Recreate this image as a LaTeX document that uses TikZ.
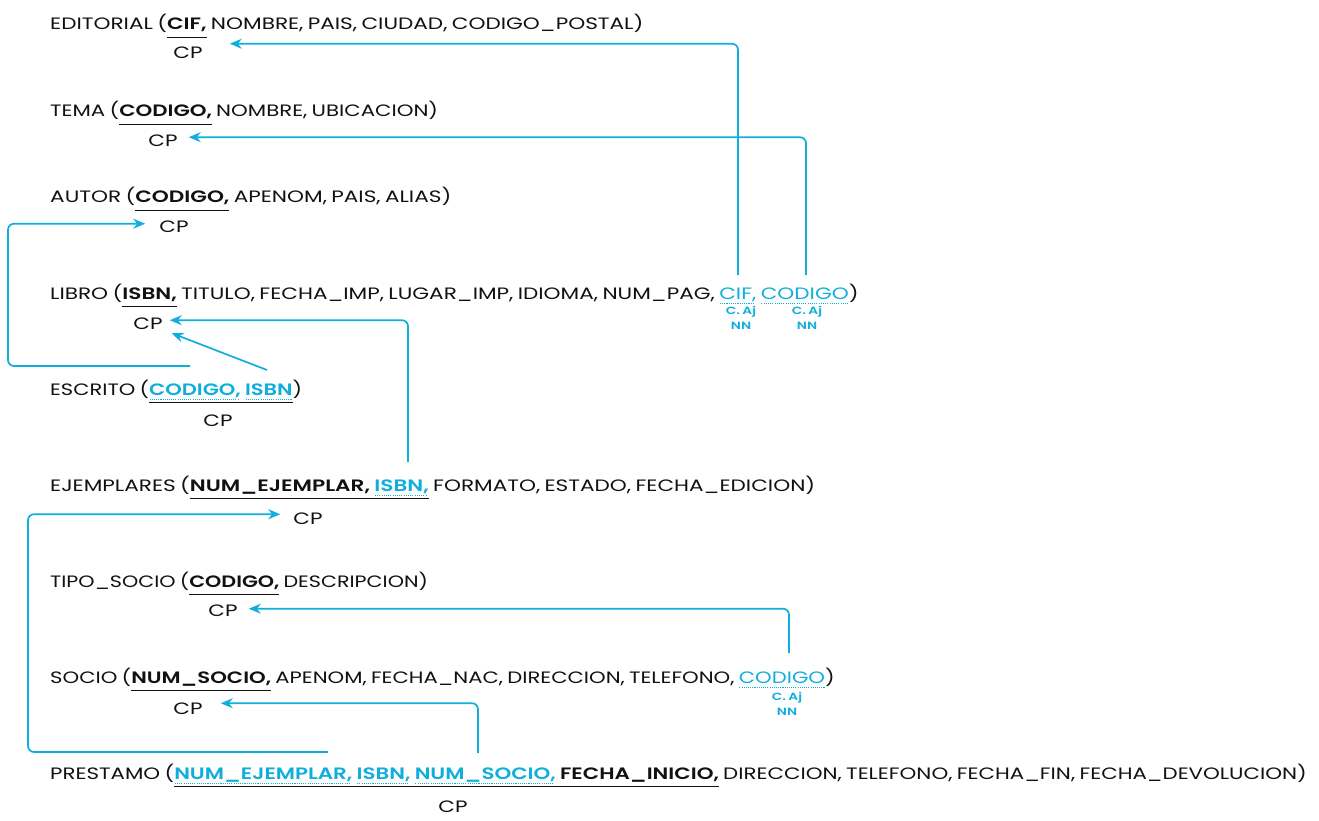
\documentclass[tikz,border=0pt]{standalone}
\usepackage{fontspec}
\usepackage{graphicx}
\setmainfont[FakeStretch=1.31,WordSpace=0.75,BoldFont={Poppins SemiBold}]{Poppins}
\usetikzlibrary{arrows.meta,calc}
\definecolor{cy}{RGB}{16,174,220}
\definecolor{ink}{RGB}{17,17,17}
\newsavebox\ulkbox
\newsavebox\uldbox
\newcommand\ulk[1]{\sbox\ulkbox{#1}\rlap{\color{ink}\rule[-8pt]{\wd\ulkbox}{1.4pt}}\usebox\ulkbox}
\newcommand\uld[1]{\sbox\uldbox{#1}\rlap{\raisebox{-4.6pt}{\color{cy}\hbox to \wd\uldbox{\leaders\hbox to 2.2pt{\hss\rule{1.1pt}{1.1pt}\hss}\hfill}}}\usebox\uldbox}
\newcommand\fk[1]{\uld{\textcolor{cy}{#1}}}
\newcommand\fkb[1]{\uld{\textcolor{cy}{\textbf{#1}}}}
\begin{document}
\begin{tikzpicture}[x=1pt,y=-1pt,
  rel/.style={anchor=base west,inner sep=0pt,font=\fontsize{16.5}{18}\selectfont,text=ink},
  cplab/.style={anchor=base,inner sep=0pt,font=\fontsize{16.5}{18}\selectfont,text=ink},
  tag/.style={anchor=north,inner sep=0pt,align=center,font=\fontsize{10.5}{15.5}\selectfont\bfseries,text=cy},
  fkarrow/.style={draw=cy,line width=1.7pt,rounded corners=6pt,-{Stealth[length=12pt,width=10pt,inset=4pt]}}]
\useasboundingbox (0,0) rectangle (1319,821);
% relations
\node[rel] (editorial) at (50,30) {EDITORIAL (\ulk{\textbf{CIF,}} NOMBRE, PAIS, CIUDAD, CODIGO\_POSTAL)};
\node[cplab] (cpE) at (188,59) {CP};
\node[rel] (tema) at (50,117) {\scalebox{0.985}[1]{TEMA (\ulk{\textbf{CODIGO,}} NOMBRE, UBICACION)}};
\node[cplab] (cpT) at (163,147) {CP};
\node[rel] (autor) at (50,203) {AUTOR (\ulk{\textbf{CODIGO,}} APENOM, PAIS, ALIAS)};
\node[cplab] (cpA) at (174,233) {CP};
\node[rel] (libro) at (50,299) {LIBRO (\ulk{\textbf{ISBN,}} TITULO, FECHA\_IMP, LUGAR\_IMP, IDIOMA, NUM\_PAG, \fk{CIF,} \fk{CODIGO})};
\node[cplab] (cpL) at (148,329) {CP};
\node[tag] (tagcif) at (741,306) {C. Aj\\NN};
\node[tag] (tagcod) at (807,306) {C. Aj\\NN};
\node[rel] (escrito) at (50,395) {\scalebox{0.973}[1]{ESCRITO (\ulk{\fkb{CODIGO,} \fkb{ISBN}})}};
\node[cplab] (cpEs) at (218,426) {CP};
\node[rel] (ejemplares) at (50,491) {EJEMPLARES (\ulk{\textbf{NUM\_EJEMPLAR,} \fkb{ISBN,}}\ FORMATO, ESTADO, FECHA\_EDICION)};
\node[cplab] (cpEj) at (308,524) {CP};
\node[rel] (tiposocio) at (50,587) {\scalebox{0.958}[1]{TIPO\_SOCIO (\ulk{\textbf{CODIGO,}} DESCRIPCION)}};
\node[cplab] (cpTS) at (223,616) {CP};
\node[rel] (socio) at (50,683) {\scalebox{0.98}[1]{SOCIO (\ulk{\textbf{NUM\_SOCIO,}} APENOM, FECHA\_NAC, DIRECCION, TELEFONO, \fk{CODIGO})}};
\node[cplab] (cpS) at (188,714) {CP};
\node[tag] (tagsoc) at (787,692) {C. Aj\\NN};
\node[rel] (prestamo) at (50,779) {\scalebox{0.989}[1]{PRESTAMO (\ulk{\fkb{NUM\_EJEMPLAR,} \fkb{ISBN,} \fkb{NUM\_SOCIO,} \textbf{FECHA\_INICIO,}} DIRECCION, TELEFONO, FECHA\_FIN, FECHA\_DEVOLUCION)}};
\node[cplab] (cpP) at (453,812) {CP};
% arrow ends
\coordinate (sCIF) at (738,275);
\coordinate (sCOD) at (806,275);
\coordinate (sEsA) at (190,366);
\coordinate (sEsL) at (267,370);
\coordinate (sEjL) at (408,462);
\coordinate (sPrEj) at (328,752);
\coordinate (sSoTS) at (789,653);
\coordinate (sPrS) at (478,753);
\draw[fkarrow] (sCIF) |- ($(cpE.east)+(27,-9.5)$);
\draw[fkarrow] (sCOD) |- ($(cpT.east)+(11,-4)$);
\draw[fkarrow] (sEsA) -- (8,366) |- ($(cpA.west)+(-14,-3.5)$);
\draw[fkarrow] (sEsL) -- ($(cpL.east)+(9,10)$);
\draw[fkarrow] (sEjL) |- ($(cpL.east)+(7,-3)$);
\draw[fkarrow] (sPrEj) -- (28,752) |- ($(cpEj.west)+(-13,-4)$);
\draw[fkarrow] (sSoTS) |- ($(cpTS.east)+(11,-1.5)$);
\draw[fkarrow] (sPrS) |- ($(cpS.east)+(18,-5)$);
\end{tikzpicture}
\end{document}
